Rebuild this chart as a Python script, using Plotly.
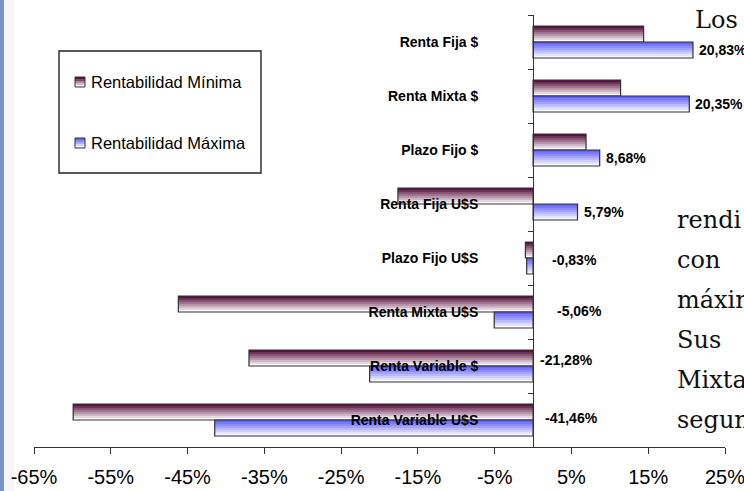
import plotly.graph_objects as go

# ---------------- data ----------------
categories = ["Renta Fija $", "Renta Mixta $", "Plazo Fijo $", "Renta Fija U$S",
              "Plazo Fijo U$S", "Renta Mixta U$S", "Renta Variable $", "Renta Variable U$S"]
rent_min = [14.4, 11.4, 6.9, -17.6, -1.0, -46.2, -37.0, -59.9]
rent_max = [20.83, 20.35, 8.68, 5.79, -0.83, -5.06, -21.28, -41.46]
max_labels = ["20,83%", "20,35%", "8,68%", "5,79%", "-0,83%", "-5,06%", "-21,28%", "-41,46%"]
series_names = ["Rentabilidad Mínima", "Rentabilidad Máxima"]
x_ticks = [-65, -55, -45, -35, -25, -15, -5, 5, 15, 25]
x_tick_labels = ["-65%", "-55%", "-45%", "-35%", "-25%", "-15%", "-5%", "5%", "15%", "25%"]
doc_words = ["Los", "rendi", "con", "máxim", "Sus", "Mixta", "segun"]

# ---------------- style ----------------
W, H = 744, 491
ML, MR, MT, MB = 34, 19, 15, 44
PW, PH = W - ML - MR, H - MT - MB
SANS = "Arial, Liberation Sans, sans-serif"
SERIF = "DejaVu Serif, serif"
OUT = "#333333"

def px_x(p):
    return (p - ML) / PW

def px_y(p):
    return 1 - (p - MT) / PH

def mix(c1, c2, t):
    return "rgb(%d,%d,%d)" % tuple(round(a + (b - a) * t) for a, b in zip(c1, c2))

min_top, min_bot = (88, 18, 62), (252, 248, 252)
max_top, max_bot = (100, 100, 255), (248, 248, 255)
bar_w = 16 / 54  # bar thickness in category units
N = 8

fig = go.Figure()

def gradient_bars(values, base_off, ctop, cbot):
    for i in range(N):
        fig.add_trace(go.Bar(
            y=categories, x=values, orientation="h",
            offset=base_off + i * bar_w / N, width=bar_w / N * 1.02,
            marker=dict(color=mix(ctop, cbot, i / (N - 1)), line=dict(width=0)),
            showlegend=False, hoverinfo="skip"))
    fig.add_trace(go.Bar(
        y=categories, x=values, orientation="h", offset=base_off, width=bar_w,
        marker=dict(color="rgba(0,0,0,0)", line=dict(color=OUT, width=1.2)),
        showlegend=False, hoverinfo="skip"))

gradient_bars(rent_min, -bar_w, min_top, min_bot)
gradient_bars(rent_max, 0, max_top, max_bot)

# data labels of the max series
neg_dx = {4: 17, 5: 22, 6: 5, 7: 10}
neg_dy = {4: 2, 5: -1, 6: -6, 7: -2}
annotations = []
for i, (v, lab) in enumerate(zip(rent_max, max_labels)):
    if v >= 0:
        xx, dx, dy = v, 4, 8
    else:
        xx, dx, dy = 0, neg_dx.get(i, 10), neg_dy.get(i, 0)
    annotations.append(dict(
        x=xx, y=categories[i], xref="x", yref="y", text=lab, showarrow=False,
        xanchor="left", yanchor="middle", xshift=dx, yshift=-dy,
        font=dict(family=SANS, size=14, color="black", weight="bold")))

# legend (drawn)
shapes = [
    dict(type="rect", xref="paper", yref="paper", x0=px_x(0), x1=px_x(4),
         y0=px_y(0), y1=px_y(H), fillcolor="#7b93c0", line=dict(width=0), layer="below"),
    dict(type="rect", xref="paper", yref="paper", x0=px_x(4), x1=px_x(14),
         y0=px_y(0), y1=px_y(H), fillcolor="#f5f5f5", line=dict(width=0), layer="below"),
    dict(type="rect", xref="paper", yref="paper", x0=px_x(59), x1=px_x(261),
         y0=px_y(51), y1=px_y(173), fillcolor="white", line=dict(color="#222", width=1.4)),
]
for name, yc, ctop, cbot in [(series_names[0], 82, min_top, min_bot),
                             (series_names[1], 143, max_top, max_bot)]:
    for k in range(5):
        shapes.append(dict(type="rect", xref="paper", yref="paper",
                           x0=px_x(75), x1=px_x(85),
                           y0=px_y(yc - 5 + 2 * k), y1=px_y(yc - 5 + 2 * k + 2),
                           fillcolor=mix(ctop, cbot, k / 4), line=dict(width=0)))
    shapes.append(dict(type="rect", xref="paper", yref="paper",
                       x0=px_x(75), x1=px_x(85), y0=px_y(yc - 5), y1=px_y(yc + 5),
                       line=dict(color=OUT, width=1)))
    annotations.append(dict(x=px_x(89), y=px_y(yc), xref="paper", yref="paper",
                            text=name, showarrow=False, xanchor="left", yanchor="middle",
                            font=dict(family=SANS, size=16.5, color="black")))

# background document text
doc_pos = [(693, 28), (675, 228), (675, 268), (675, 308), (675, 348), (675, 388), (675, 428)]
for wd, (x0, base) in zip(doc_words, doc_pos):
    annotations.append(dict(x=px_x(x0), y=px_y(base - 8), xref="paper", yref="paper",
                            text=wd, showarrow=False, xanchor="left", yanchor="middle",
                            font=dict(family=SERIF, size=24, color="#111")))

fig.update_layout(
    width=W, height=H, margin=dict(l=ML, r=MR, t=MT, b=MB, autoexpand=False),
    paper_bgcolor="white", plot_bgcolor="rgba(0,0,0,0)",
    barmode="overlay", showlegend=False,
    xaxis=dict(range=[-65, 25], tickvals=x_ticks, ticktext=x_tick_labels,
               automargin=False, ticklabeloverflow="allow",
               showgrid=False, zeroline=False, showline=True, linecolor=OUT, linewidth=1,
               ticks="outside", ticklen=6, tickcolor=OUT, ticklabelstandoff=6,
               tickfont=dict(family=SANS, size=20, color="black")),
    yaxis=dict(type="category", categoryorder="array", categoryarray=categories,
               range=[7.5, -0.5], anchor="free", position=65 / 90, automargin=False,
               showgrid=False, zeroline=False, showline=True, linecolor=OUT, linewidth=1,
               ticks="outside", ticklen=5, tickcolor=OUT, tickson="boundaries",
               ticklabelstandoff=52,
               tickfont=dict(family=SANS, size=14, color="black", weight="bold")),
    shapes=shapes, annotations=annotations,
)

fig.write_html("out.html", config={"displayModeBar": False},
               post_script="document.body.style.margin='0';document.body.style.overflow='hidden';")
